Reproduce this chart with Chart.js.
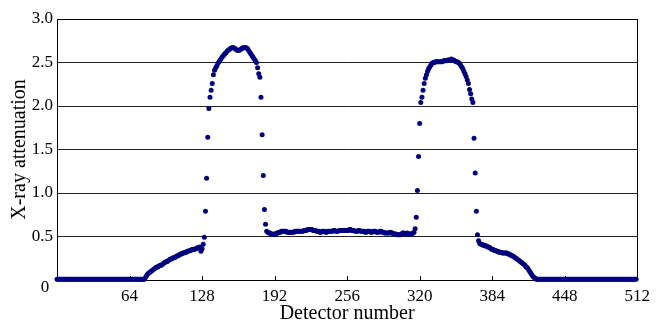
<!DOCTYPE html>
<html>
<head>
<meta charset="utf-8">
<script src="https://cdn.jsdelivr.net/npm/chart.js@4/dist/chart.umd.min.js"></script>
<style>
  html, body { margin: 0; padding: 0; background: #ffffff; }
  #wrap { width: 656px; height: 324px; }
</style>
</head>
<body>
<div id="wrap"><canvas id="c" width="656" height="324"></canvas></div>
<script>
// X-ray attenuation per detector (detector index 0..511)
const attenuation = [
  0.01,0.01,0.01,0.01,0.01,0.01,0.01,0.01,0.01,0.01,0.01,0.01,0.01,0.01,0.01,0.01,
  0.01,0.01,0.01,0.01,0.01,0.01,0.01,0.01,0.01,0.01,0.01,0.01,0.01,0.01,0.01,0.01,
  0.01,0.01,0.01,0.01,0.01,0.01,0.01,0.01,0.01,0.01,0.01,0.01,0.01,0.01,0.01,0.01,
  0.01,0.01,0.01,0.01,0.01,0.01,0.01,0.01,0.01,0.01,0.01,0.01,0.01,0.01,0.01,0.01,
  0.01,0.01,0.01,0.01,0.01,0.01,0.01,0.01,0.01,0.01,0.01,0.01,0.01,0.01,0.03,0.05,
  0.07,0.08,0.09,0.10,0.11,0.12,0.13,0.14,0.15,0.15,0.16,0.17,0.17,0.18,0.19,0.20,
  0.21,0.21,0.22,0.23,0.24,0.24,0.25,0.26,0.26,0.27,0.28,0.28,0.29,0.30,0.30,0.31,
  0.31,0.32,0.32,0.33,0.33,0.34,0.34,0.35,0.35,0.35,0.36,0.36,0.37,0.37,0.38,0.33,
  0.36,0.41,0.49,0.79,1.17,1.64,1.97,2.10,2.18,2.26,2.36,2.41,2.44,2.46,2.49,2.51,
  2.53,2.55,2.57,2.58,2.60,2.61,2.63,2.64,2.65,2.66,2.67,2.67,2.67,2.66,2.65,2.64,
  2.64,2.64,2.65,2.66,2.67,2.67,2.67,2.67,2.66,2.64,2.62,2.60,2.58,2.56,2.54,2.52,
  2.50,2.44,2.37,2.33,2.10,1.67,1.20,0.81,0.64,0.56,0.55,0.54,0.54,0.53,0.53,0.52,
  0.53,0.53,0.54,0.54,0.55,0.55,0.56,0.56,0.56,0.56,0.56,0.55,0.55,0.55,0.55,0.55,
  0.55,0.55,0.56,0.56,0.56,0.56,0.56,0.56,0.56,0.56,0.57,0.57,0.57,0.58,0.58,0.58,
  0.58,0.58,0.57,0.57,0.57,0.56,0.56,0.56,0.55,0.55,0.56,0.56,0.56,0.55,0.55,0.56,
  0.56,0.56,0.56,0.56,0.57,0.57,0.56,0.56,0.56,0.57,0.57,0.57,0.57,0.57,0.57,0.57,
  0.57,0.57,0.58,0.58,0.57,0.57,0.57,0.56,0.56,0.56,0.57,0.57,0.56,0.56,0.56,0.56,
  0.55,0.55,0.56,0.56,0.56,0.55,0.55,0.56,0.56,0.56,0.55,0.55,0.55,0.56,0.56,0.55,
  0.55,0.54,0.54,0.54,0.54,0.54,0.55,0.54,0.54,0.53,0.53,0.53,0.52,0.52,0.52,0.52,
  0.53,0.54,0.54,0.53,0.53,0.54,0.53,0.53,0.53,0.53,0.54,0.55,0.59,0.72,1.03,1.42,
  1.80,2.04,2.10,2.18,2.26,2.32,2.36,2.40,2.43,2.45,2.47,2.49,2.50,2.50,2.51,2.51,
  2.51,2.51,2.51,2.51,2.51,2.52,2.52,2.52,2.52,2.53,2.53,2.53,2.54,2.53,2.53,2.52,
  2.51,2.51,2.50,2.49,2.47,2.45,2.43,2.40,2.37,2.34,2.30,2.26,2.19,2.14,2.08,2.04,
  1.63,1.23,0.79,0.52,0.45,0.42,0.41,0.41,0.40,0.40,0.39,0.39,0.38,0.38,0.37,0.36,
  0.35,0.35,0.34,0.34,0.33,0.33,0.32,0.32,0.32,0.31,0.31,0.31,0.31,0.31,0.30,0.30,
  0.29,0.28,0.28,0.27,0.26,0.25,0.24,0.23,0.22,0.21,0.20,0.19,0.18,0.17,0.15,0.14,
  0.12,0.10,0.08,0.06,0.04,0.03,0.02,0.01,0.01,0.01,0.01,0.01,0.01,0.01,0.01,0.01,
  0.01,0.01,0.01,0.01,0.01,0.01,0.01,0.01,0.01,0.01,0.01,0.01,0.01,0.01,0.01,0.01,
  0.01,0.01,0.01,0.01,0.01,0.01,0.01,0.01,0.01,0.01,0.01,0.01,0.01,0.01,0.01,0.01,
  0.01,0.01,0.01,0.01,0.01,0.01,0.01,0.01,0.01,0.01,0.01,0.01,0.01,0.01,0.01,0.01,
  0.01,0.01,0.01,0.01,0.01,0.01,0.01,0.01,0.01,0.01,0.01,0.01,0.01,0.01,0.01,0.01,
  0.01,0.01,0.01,0.01,0.01,0.01,0.01,0.01,0.01,0.01,0.01,0.01,0.01,0.01,0.01,0.01
];
const xTicks = [0, 64, 128, 192, 256, 320, 384, 448, 512];
const yTicks = [0, 0.5, 1.0, 1.5, 2.0, 2.5, 3.0];
const xTitle = 'Detector number';
const yTitle = 'X-ray attenuation';
const originLabel = '0';

const FONT = "'Liberation Serif', 'Times New Roman', serif";
const points = attenuation.map((v, i) => ({ x: i, y: v }));

const framePlugin = {
  id: 'frame',
  beforeDatasetsDraw(chart) {
    const { ctx, chartArea: a, scales } = chart;
    ctx.save();
    ctx.strokeStyle = '#000';
    ctx.lineWidth = 1;
    ctx.strokeRect(Math.round(a.left) + 0.5, Math.round(a.top) + 0.5,
                   Math.round(a.right - a.left), Math.round(a.bottom - a.top));
    // inward tick marks on the bottom axis
    ctx.beginPath();
    xTicks.forEach(t => {
      if (t === 0 || t === 512) return;
      const px = Math.round(scales.x.getPixelForValue(t)) + 0.5;
      ctx.moveTo(px, a.bottom);
      ctx.lineTo(px, a.bottom - 4);
    });
    ctx.stroke();
    ctx.restore();
  },
  afterDraw(chart) {
    const { ctx, chartArea: a } = chart;
    ctx.save();
    ctx.fillStyle = '#000';
    ctx.font = '17px ' + FONT;
    ctx.textAlign = 'center';
    ctx.textBaseline = 'middle';
    ctx.fillText(originLabel, a.left - 12, a.bottom + 8);
    ctx.restore();
  }
};

new Chart(document.getElementById('c'), {
  type: 'scatter',
  data: {
    datasets: [{
      data: points,
      pointRadius: 2.5,
      pointHoverRadius: 2.5,
      pointBackgroundColor: '#00007f',
      pointBorderWidth: 0,
      borderColor: '#00007f',
      showLine: false,
      clip: false
    }]
  },
  options: {
    responsive: false,
    animation: false,
    devicePixelRatio: 1,
    layout: { autoPadding: false, padding: { left: 0, top: 19, right: 17, bottom: 0 } },
    plugins: { legend: { display: false }, tooltip: { enabled: false } },
    scales: {
      x: {
        type: 'linear',
        min: 0, max: 512,
        afterFit: s => { s.height = 44; },
        afterBuildTicks: s => { s.ticks = xTicks.map(v => ({ value: v })); },
        ticks: {
          autoSkip: false,
          maxRotation: 0,
          padding: 6,
          color: '#000',
          font: { family: FONT, size: 17 },
          callback: v => (v === 0 ? '' : String(v))
        },
        grid: { display: false, drawTicks: false },
        border: { display: false },
        title: {
          display: true, text: xTitle, color: '#000',
          font: { family: FONT, size: 20, lineHeight: 1.05 },
          padding: { top: 0, bottom: 0 }
        }
      },
      y: {
        min: 0, max: 3,
        afterFit: s => { s.width = 57; },
        afterBuildTicks: s => { s.ticks = yTicks.map(v => ({ value: v })); },
        ticks: {
          padding: 4,
          color: '#000',
          font: { family: FONT, size: 17 },
          callback: v => (v === 0 ? '' : v.toFixed(1))
        },
        grid: { color: '#222', lineWidth: 1, drawTicks: false },
        border: { display: false },
        title: {
          display: true, text: yTitle, color: '#000',
          font: { family: FONT, size: 20 },
          padding: { top: 8, bottom: 0 }
        }
      }
    }
  },
  plugins: [framePlugin]
});
</script>
</body>
</html>
